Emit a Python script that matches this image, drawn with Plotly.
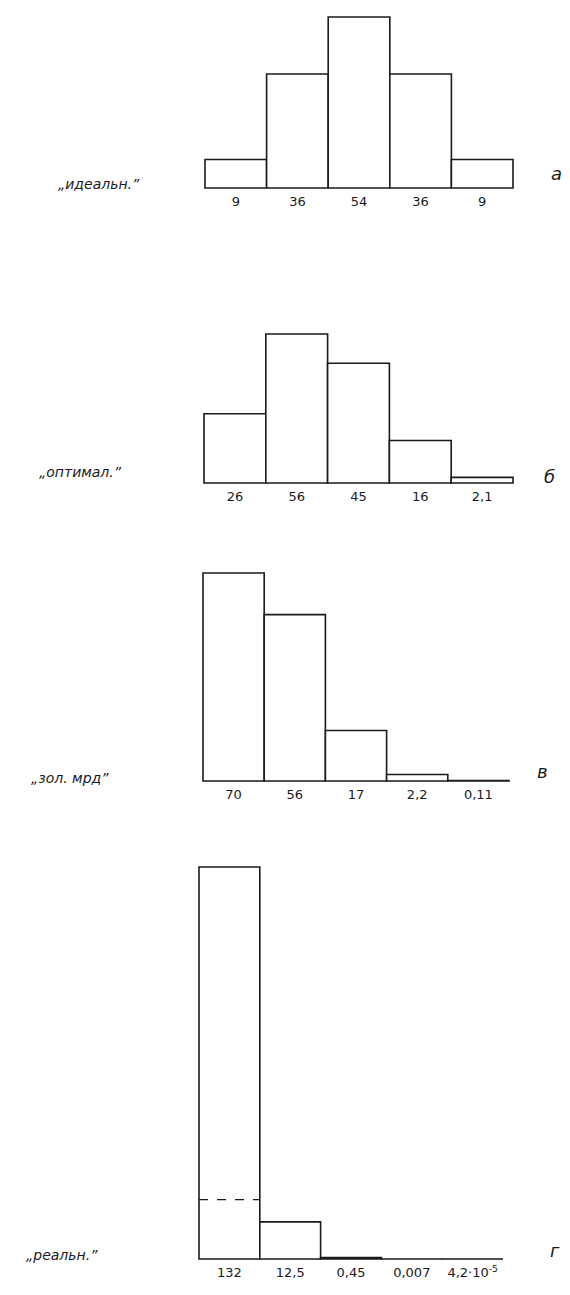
import plotly.graph_objects as go

W, H = 570, 1295

# ---- data ----
positions = [0, 1, 2, 3, 4]
ideal_vals = [9, 36, 54, 36, 9]
ideal_labels = ["9", "36", "54", "36", "9"]
optim_vals = [26, 56, 45, 16, 2.1]
optim_labels = ["26", "56", "45", "16", "2,1"]
gold_vals = [70, 56, 17, 2.2, 0.11]
gold_labels = ["70", "56", "17", "2,2", "0,11"]
real_vals = [132, 12.5, 0.45, 0.007, 4.2e-5]
real_labels = ["132", "12,5", "0,45", "0,007", "4,2·10<sup>-5</sup>"]
real_dash_level = 20

panel_names = ["„идеальн.”", "„оптимал.”", "„зол. мрд”", "„реальн.”"]
panel_letters = ["а", "б", "в", "г"]

panels = [
    (ideal_vals, ideal_labels),
    (optim_vals, optim_labels),
    (gold_vals, gold_labels),
    (real_vals, real_labels),
]

# pixel geometry (left, right, baseline, top-of-max-bar)
geom = [
    (205, 513, 188, 17),
    (204, 513, 483, 334),
    (203, 509, 781, 573),
    (199, 503, 1259, 867),
]
name_pos = [(99, 184), (80, 472), (70, 778), (62, 1255)]
letter_pos = [(556, 173), (549, 476), (542, 771), (555, 1250)]

PAD = 4  # px of breathing room so outlines are not clipped

fig = go.Figure()
INK = "#1a1a1a"
FONT = "DejaVu Sans"

for i, ((vals, labs), (l, r, base, top)) in enumerate(zip(panels, geom), start=1):
    xa = "x" if i == 1 else f"x{i}"
    ya = "y" if i == 1 else f"y{i}"
    fig.add_trace(go.Bar(
        x=positions, y=vals, width=1,
        marker=dict(color="white", line=dict(color=INK, width=1.6)),
        xaxis=xa, yaxis=ya, showlegend=False, hoverinfo="skip",
    ))
    xpx = (r - l) / 5.0
    ymax = max(vals)
    ypx = (base - top) / ymax
    fig.update_layout({
        f"xaxis{'' if i == 1 else i}": dict(
            domain=[(l - PAD) / W, (r + PAD) / W],
            range=[-0.5 - PAD / xpx, 4.5 + PAD / xpx], anchor=ya,
            showgrid=False, zeroline=False, showline=False,
            tickmode="array", tickvals=positions, ticktext=labs,
            ticks="", ticklen=0,
            tickfont=dict(family=FONT, size=13, color=INK),
            fixedrange=True,
        ),
        f"yaxis{'' if i == 1 else i}": dict(
            domain=[1 - (base + PAD) / H, 1 - (top - PAD) / H],
            range=[-PAD / ypx, ymax + PAD / ypx],
            anchor=xa, visible=False, fixedrange=True,
        ),
    })

# dashed level inside the first bar of panel "г"
fig.add_trace(go.Scatter(
    x=[positions[0] - 0.5, positions[0] + 0.5], y=[real_dash_level] * 2,
    mode="lines", line=dict(color=INK, width=1.4, dash="dash"),
    xaxis="x4", yaxis="y4", showlegend=False, hoverinfo="skip",
))

for (nx, ny), txt in zip(name_pos, panel_names):
    fig.add_annotation(
        x=nx / W, y=1 - ny / H, xref="paper", yref="paper",
        xanchor="center", yanchor="middle",
        text=f"<i>{txt}</i>", showarrow=False,
        font=dict(family=FONT, size=14, color=INK),
    )
for (lx, ly), txt in zip(letter_pos, panel_letters):
    fig.add_annotation(
        x=lx / W, y=1 - ly / H, xref="paper", yref="paper",
        xanchor="center", yanchor="middle",
        text=f"<i>{txt}</i>", showarrow=False,
        font=dict(family=FONT, size=18, color=INK),
    )

fig.update_layout(
    width=W, height=H,
    margin=dict(l=0, r=0, t=0, b=0),
    paper_bgcolor="white", plot_bgcolor="rgba(0,0,0,0)",
    bargap=0, showlegend=False,
)

fig.write_html(
    "out.html",
    config={"displayModeBar": False, "staticPlot": True},
    post_script="document.body.style.margin='0';document.body.style.overflow='hidden';",
)
